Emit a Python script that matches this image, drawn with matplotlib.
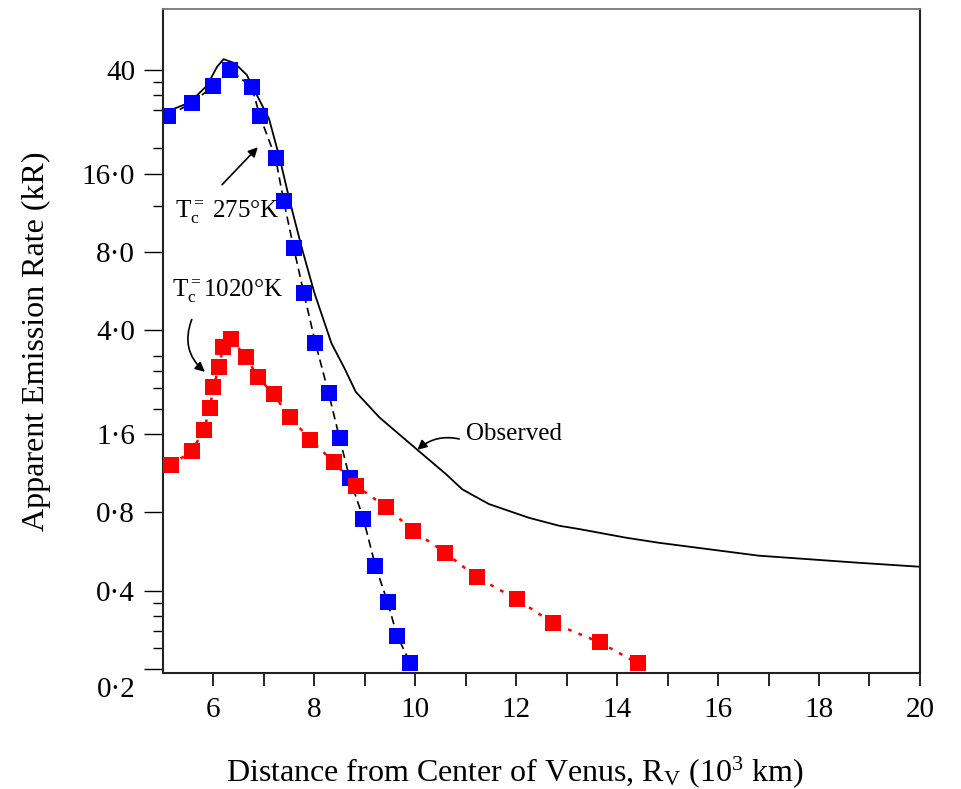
import matplotlib
matplotlib.use("Agg")
import matplotlib.pyplot as plt
from matplotlib.ticker import FixedLocator, NullFormatter

plt.rcParams['font.family'] = ['Liberation Serif', 'DejaVu Serif']
plt.rcParams['mathtext.fontset'] = 'custom'
plt.rcParams['mathtext.rm'] = 'Liberation Serif'
plt.rcParams['mathtext.it'] = 'Liberation Serif:italic'

# ---- data ----
obs_x = [5.0, 5.53, 5.87, 6.07, 6.2, 6.42, 6.66, 6.88, 7.1, 7.31, 7.51, 7.75, 8.0,
         8.34, 8.6, 8.82, 9.29, 10.04, 10.61, 10.93, 11.46, 12.25, 12.85, 13.24, 14.17,
         14.82, 16.8, 18.77, 20.0]
obs_v = [27.3, 30.0, 34.8, 41.1, 44.0, 42.5, 38.3, 31.5, 26.0, 18.4, 12.6, 8.3, 5.57,
         3.56, 2.85, 2.32, 1.85, 1.39, 1.12, 0.98, 0.86, 0.762, 0.71, 0.69, 0.639,
         0.611, 0.545, 0.512, 0.494]

cold_x = [5.1, 5.57, 6.0, 6.33, 6.76, 6.92, 7.23, 7.39, 7.59, 7.79, 8.02, 8.28, 8.5,
          8.70, 8.97, 9.21, 9.45, 9.64, 9.90]
cold_v = [26.6, 29.9, 34.7, 40.0, 34.4, 26.6, 18.4, 12.6, 8.3, 5.57, 3.58, 2.30, 1.54,
          1.08, 0.757, 0.497, 0.362, 0.268, 0.211]

hot_x = [5.16, 5.57, 5.81, 5.93, 6.0, 6.11, 6.19, 6.34, 6.64, 6.88, 7.19, 7.51, 7.92,
         8.38, 8.83, 9.41, 9.96, 10.59, 11.22, 12.02, 12.73, 13.66, 14.41]
hot_v = [1.22, 1.37, 1.66, 2.01, 2.43, 2.90, 3.44, 3.71, 3.17, 2.65, 2.27, 1.86, 1.52,
         1.25, 1.01, 0.84, 0.68, 0.56, 0.45, 0.37, 0.30, 0.253, 0.21]

x_ticks = [6, 8, 10, 12, 14, 16, 18, 20]
x_minor = [7, 9, 11, 13, 15, 17, 19]
y_ticks = [0.2, 0.4, 0.8, 1.6, 4, 8, 16, 40]
y_labels = ['0·2', '0·4', '0·8', '1·6', '4·0', '8·0', '16·0', '40']
y_minor = [0.24, 0.28, 0.32, 0.36, 2.0, 2.4, 2.8, 3.2, 12, 20, 28, 32, 36]

fig = plt.figure(figsize=(9.61, 7.89), dpi=100)
ax = fig.add_axes([0.1696, 0.1470, 0.7877, 0.8416])

ax.plot(obs_x, obs_v, color='black', lw=1.3, zorder=2)
ax.plot(cold_x, cold_v, color='black', lw=1.2, linestyle=(0, (5, 3)), zorder=2)
ax.plot(hot_x, hot_v, color='red', lw=1.8, linestyle=(0, (1.5, 3)), zorder=2)
ax.plot(cold_x, cold_v, linestyle='none', marker='s', ms=11.5, mew=0,
        color='#0000ff', zorder=3)
ax.plot(hot_x, hot_v, linestyle='none', marker='s', ms=11.5, mew=0,
        color='#ff0000', zorder=3)

ax.set_yscale('log')
ax.set_xlim(5, 20)
ax.set_ylim(0.193, 68.6)

ax.xaxis.set_major_locator(FixedLocator(x_ticks))
ax.xaxis.set_minor_locator(FixedLocator(x_minor))
ax.set_xticklabels([str(t) for t in x_ticks])
ax.yaxis.set_major_locator(FixedLocator(y_ticks))
ax.yaxis.set_minor_locator(FixedLocator(y_minor))
ax.yaxis.set_minor_formatter(NullFormatter())
ax.set_yticklabels([('' if t == '0·2' else t) for t in y_labels])

ax.tick_params(axis='x', which='both', direction='out', length=9, width=1.2,
               labelsize=21, pad=8, top=False)
ax.tick_params(axis='y', which='major', direction='out', length=14, width=1.0,
               labelsize=21, pad=6, right=False)
ax.tick_params(axis='y', which='minor', direction='out', length=7, width=1.0,
               right=False)
# the lowest y label sits below its tick in the original
ax.annotate(y_labels[0], xy=(0, y_ticks[0]), xycoords=('axes fraction', 'data'),
            xytext=(-20, -15), textcoords='offset points', ha='right', va='center',
            fontsize=21)

for side in ['left', 'right', 'bottom']:
    ax.spines[side].set_linewidth(1.5)
    ax.spines[side].set_color('#222222')
ax.spines['top'].set_linewidth(1.3)
ax.spines['top'].set_color('#777777')

ax.set_xlabel(r'Distance from Center of Venus, R$_\mathrm{V}$ (10$^{3}$ km)',
              fontsize=23)
ax.xaxis.set_label_coords(0.464, -0.122)
ax.set_ylabel('Apparent Emission Rate (kR)', fontsize=23, labelpad=22)

ax.text(5.24, 11.4, r'T$_\mathrm{c}^{=}$ 275°K', fontsize=18, ha='left', va='center')
ax.annotate('', xy=(6.88, 20.2), xytext=(6.17, 14.5),
            arrowprops=dict(arrowstyle='-|>', color='black', lw=1.2,
                            mutation_scale=14, shrinkA=0, shrinkB=0))
ax.text(5.18, 5.71, r'T$_\mathrm{c}^{=}$1020°K', fontsize=18, ha='left', va='center')
ax.annotate('', xy=(5.83, 2.77), xytext=(5.57, 4.40),
            arrowprops=dict(arrowstyle='-|>', color='black', lw=1.2,
                            mutation_scale=14, shrinkA=0, shrinkB=0,
                            connectionstyle='arc3,rad=0.35'))
ax.text(11.01, 1.60, 'Observed', fontsize=18, ha='left', va='center')
ax.annotate('', xy=(10.04, 1.39), xytext=(10.87, 1.53),
            arrowprops=dict(arrowstyle='-|>', color='black', lw=1.2,
                            mutation_scale=14, shrinkA=0, shrinkB=0,
                            connectionstyle='arc3,rad=0.25'))

fig.savefig('out.png', dpi=100)
